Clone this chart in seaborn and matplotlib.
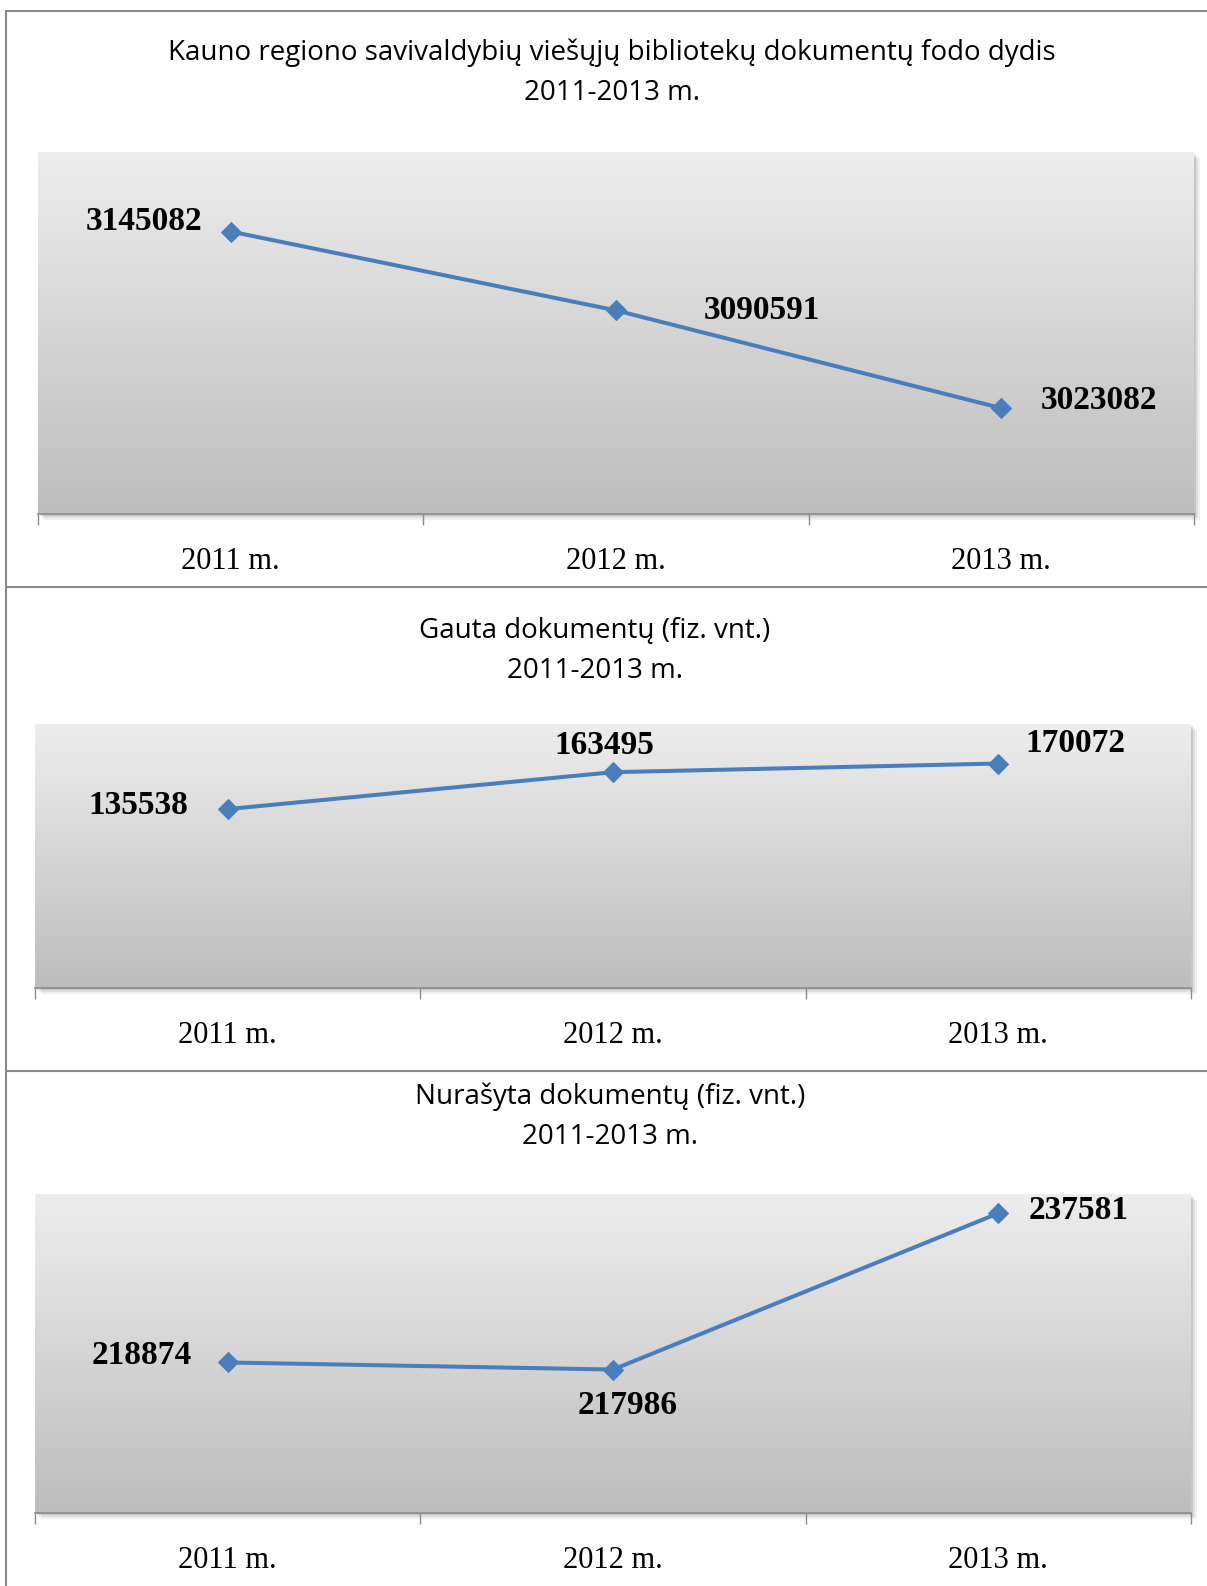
import numpy as np
import pandas as pd
import matplotlib.pyplot as plt
import seaborn as sns
from matplotlib.lines import Line2D
from matplotlib.patches import Rectangle
from matplotlib.colors import LinearSegmentedColormap

years = ["2011 m.", "2012 m.", "2013 m."]
fondas = [3145082, 3090591, 3023082]
gauta = [135538, 163495, 170072]
nurasyta = [218874, 217986, 237581]

titles = [
    "Kauno regiono savivaldybių viešųjų bibliotekų dokumentų fodo dydis\n2011-2013 m.",
    "Gauta dokumentų (fiz. vnt.)\n2011-2013 m.",
    "Nurašyta dokumentų (fiz. vnt.)\n2011-2013 m.",
]
limits = [(2950000, 3200000), (0, 200000), (200000, 240000)]
# label offsets in pixels, from point to label centre
offsets = [
    [(-87, 10), (146, 0), (98, 8)],
    [(-89, 4), (-9, 27), (77, 20)],
    [(-86, 7), (15, -36), (80, 3)],
]

W, H = 1207, 1586
sns.set_style("white")
plt.rcParams['font.family'] = ['Liberation Serif', 'DejaVu Serif']
plt.rcParams['text.color'] = 'black'
plt.rcParams['xtick.color'] = '#8c8c8c'
plt.rcParams['xtick.labelcolor'] = 'black'

fig = plt.figure(figsize=(W / 100, H / 100), dpi=100)

# plot areas in pixels: left, top, right, bottom
boxes = [(38, 152, 1194, 514), (35, 724, 1191, 988), (35, 1194, 1191, 1513)]
title_pos = [(612, 73), (595, 651), (610, 1117)]
series = [fondas, gauta, nurasyta]
blue = "#4a7ebb"

grad = np.linspace(0, 1, 256).reshape(-1, 1)
cmap = LinearSegmentedColormap.from_list("bg", ["#ededed", "#bdbdbd"])

for i, (vals, box) in enumerate(zip(series, boxes)):
    l, t, r, b = box
    # soft shadow behind the plot area
    for k, a in [(6, 0.06), (4, 0.08), (2, 0.10)]:
        fig.add_artist(Rectangle(((l + k) / W, 1 - (b + k) / H), (r - l) / W, (b - t) / H,
                                 transform=fig.transFigure, facecolor="black", alpha=a,
                                 edgecolor="none", zorder=0))
    ax = fig.add_axes([l / W, 1 - b / H, (r - l) / W, (b - t) / H])
    ax.imshow(grad, aspect="auto", cmap=cmap, extent=[0, 1, 0, 1],
              transform=ax.transAxes, zorder=0)
    df = pd.DataFrame({"year": years, "value": vals})
    sns.lineplot(data=df, x="year", y="value", ax=ax, color=blue, linewidth=2.9,
                 marker="D", markersize=10, markeredgecolor=blue, zorder=3)
    ax.set_xlim(-0.5, 2.5)
    ax.set_ylim(*limits[i])
    ax.set_yticks([])
    ax.set_xlabel("")
    ax.set_ylabel("")
    for s in ["top", "left", "right"]:
        ax.spines[s].set_visible(False)
    ax.spines["bottom"].set_color("#8c8c8c")
    ax.spines["bottom"].set_linewidth(1.2)
    ax.set_xticks([0, 1, 2])
    ax.set_xticklabels(years, fontsize=22)
    ax.tick_params(axis="x", which="major", length=0, pad=24)
    ax.set_xticks([-0.5, 0.5, 1.5, 2.5], minor=True)
    ax.tick_params(axis="x", which="minor", bottom=True, length=8,
                   color="#8c8c8c", width=1)
    for j, v in enumerate(vals):
        dx, dy = offsets[i][j]
        ax.annotate(str(v), (j, v), xytext=(dx, dy), textcoords="offset pixels",
                    ha="center", va="center", fontsize=24, fontweight="bold",
                    color="black")
    tx, ty = title_pos[i]
    fig.text(tx / W, 1 - ty / H, titles[i], ha="center", va="center", color="black",
             fontsize=20, family=["Open Sans", "DejaVu Sans"], linespacing=1.55)

# frame lines
gray = "#8a8a8a"
fig.add_artist(Line2D([6 / W, 1], [1 - 11 / H, 1 - 11 / H], color=gray, lw=1.5))
fig.add_artist(Line2D([6 / W, 6 / W], [0, 1 - 11 / H], color=gray, lw=1.5))
for y in [587, 1071]:
    fig.add_artist(Line2D([6 / W, 1], [1 - y / H, 1 - y / H], color=gray, lw=1.5))

fig.savefig("out.png", dpi=100, facecolor="white")
